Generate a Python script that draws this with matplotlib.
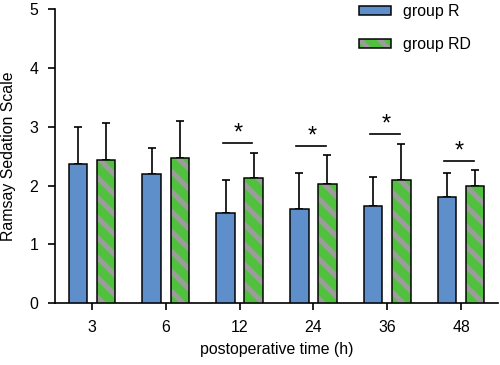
import numpy as np
import matplotlib
matplotlib.use("Agg")
import matplotlib.pyplot as plt
from matplotlib.legend_handler import HandlerTuple

plt.rcParams['font.family'] = ['Liberation Sans', 'DejaVu Sans']
plt.rcParams['hatch.linewidth'] = 3.2

times = ['3', '6', '12', '24', '36', '48']
mean_R = [2.36, 2.20, 1.53, 1.60, 1.65, 1.80]
sd_R = [0.64, 0.44, 0.57, 0.62, 0.49, 0.42]
mean_RD = [2.43, 2.47, 2.13, 2.03, 2.10, 2.00]
sd_RD = [0.63, 0.63, 0.43, 0.49, 0.61, 0.26]
signif = [False, False, True, True, True, True]

blue = '#5e8fca'
green = '#4fc13c'
gray = '#9c9c9c'
fs = 9.5

fig = plt.figure(figsize=(500 / 120, 365 / 120), dpi=120)
ax = fig.add_axes([0.11, 0.169, 0.886, 0.806])

x = np.arange(len(times))
w = 0.25
off = 0.19
lw = 0.9

bR = ax.bar(x - off, mean_R, w, color=blue, edgecolor='black', linewidth=lw, zorder=3)
ax.errorbar(x - off, mean_R, yerr=[np.zeros(len(sd_R)), sd_R], fmt='none',
            ecolor='black', elinewidth=1.0, capsize=2.6, capthick=1.0, zorder=2)

bRD = ax.bar(x + off, mean_RD, w, color=green, edgecolor=gray, linewidth=0,
             hatch='\\\\', zorder=3)
bRDo = ax.bar(x + off, mean_RD, w, fill=False, edgecolor='black', linewidth=lw, zorder=4)
ax.errorbar(x + off, mean_RD, yerr=[np.zeros(len(sd_RD)), sd_RD], fmt='none',
            ecolor='black', elinewidth=1.0, capsize=2.6, capthick=1.0, zorder=2)

# significance markers
for i in range(len(times)):
    if signif[i]:
        top = max(mean_R[i] + sd_R[i], mean_RD[i] + sd_RD[i]) + 0.16
        ax.plot([x[i] - off - 0.04, x[i] + off - 0.02], [top, top], color='black', lw=1.0)
        ax.text(x[i] - 0.02, top + 0.17, '*', ha='center', va='center', fontsize=14)

ax.set_xlim(-0.5, 5.5)
ax.set_ylim(0, 5)
ax.set_xticks(x)
ax.set_xticklabels(times)
ax.set_yticks(range(6))
ax.spines['top'].set_visible(False)
ax.spines['right'].set_visible(False)
ax.spines['left'].set_linewidth(1.0)
ax.spines['bottom'].set_linewidth(1.0)
ax.tick_params(axis='both', labelsize=fs, length=4, width=1.0, pad=6)
ax.set_ylabel('Ramsay Sedation Scale', fontsize=fs, labelpad=8)
ax.set_xlabel('postoperative time (h)', fontsize=fs, labelpad=4)

fig.legend([bR, (bRD, bRDo)], ['group R', 'group RD'],
           handler_map={tuple: HandlerTuple(ndivide=1, pad=0)},
           loc='upper left', bbox_to_anchor=(0.718, 0.989), frameon=False,
           fontsize=fs, handlelength=2.0, handleheight=0.45, handletextpad=0.76,
           labelspacing=1.15, borderpad=0, borderaxespad=0)

fig.savefig('out.png', dpi=120)
